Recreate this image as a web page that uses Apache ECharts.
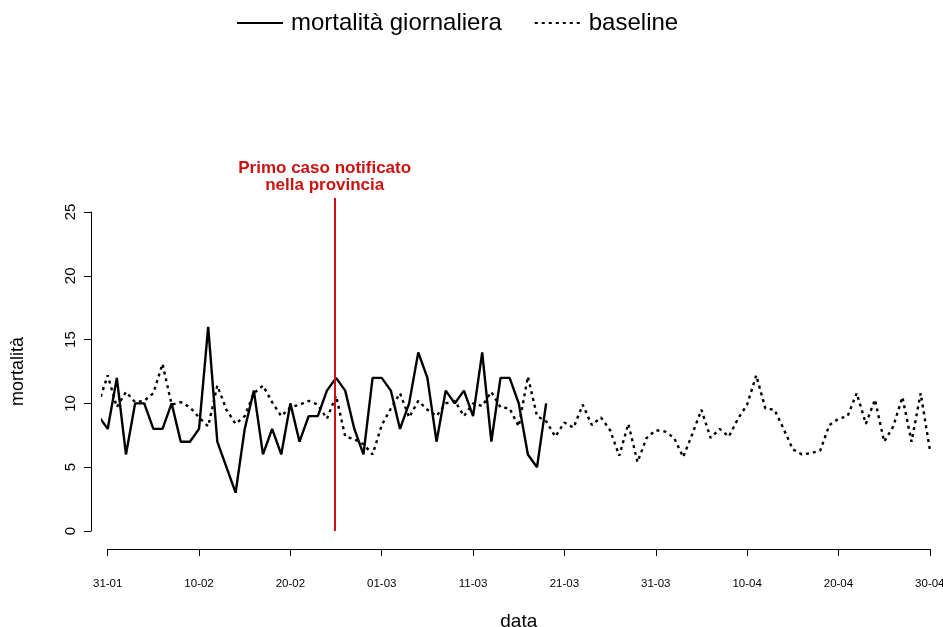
<!DOCTYPE html>
<html>
<head>
<meta charset="utf-8">
<script src="https://cdn.jsdelivr.net/npm/echarts@6/dist/echarts.min.js"></script>
<style>
html,body{margin:0;padding:0;background:#fff;}
#chart{width:943px;height:627px;}
</style>
</head>
<body>
<div id="chart"></div>
<script>
// day index 0 = 31-01 ; first value is 30-01 (day -1)
const firstDay = -1;
const xTickLabels = ['31-01','10-02','20-02','01-03','11-03','21-03','31-03','10-04','20-04','30-04'];
const seriesNames = ['mortalità giornaliera', 'baseline'];
const mortalita = [9,
  8,12,6,10,10,8,8,10,7,7,
  8,16,7,5,3,8,11,6,8,6,
  10,7,9,9,11,12,11,8,6,12,
  12,11,8,10,14,12,7,11,10,11,
  9,14,7,12,12,10,6,5,10];
const baseline = [10.0,
  12.2,9.7,10.9,10.1,10.2,10.8,13.1,9.9,10.1,9.7,
  8.9,8.2,11.4,9.5,8.4,9.0,10.8,11.4,10.1,9.0,
  9.7,9.9,10.2,9.9,8.8,10.6,7.4,7.2,6.8,6.0,
  8.3,9.6,10.8,8.9,10.2,9.5,9.0,10.0,10.2,9.0,
  10.0,9.8,10.9,9.7,9.6,8.2,12.1,9.0,8.6,7.4,
  8.5,8.1,9.9,8.3,8.9,7.9,5.9,8.4,5.4,7.3,
  7.9,7.8,7.3,5.8,7.6,9.5,7.3,8.0,7.4,8.8,
  9.9,12.2,9.6,9.5,8.0,6.4,6.0,6.1,6.3,8.3,
  8.8,9.0,10.8,8.4,10.3,7.0,8.2,10.5,7.0,10.8,
  6.4];
const primoCasoDay = 24.85;
const primoCasoTop = 26.1;
const primoCasoText = 'Primo caso notificato\nnella provincia';

const FONT = "'Liberation Sans', Arial, Helvetica, sans-serif";
const chart = echarts.init(document.getElementById('chart'), null, {renderer:'canvas'});

const toPairs = arr => arr.map((v, i) => [firstDay + i, v]);

// pixel layout
const axisLeftPx = 107.7, axisRightPx = 929.8, yTop = 212, yBottom = 531;
const pxPerDay = (axisRightPx - axisLeftPx) / 90;
const pxPerUnit = (yBottom - yTop) / 25;
const dataYMax = 27;

const option = {
  animation: false,
  backgroundColor: '#ffffff',
  textStyle: {fontFamily: FONT},
  legend: {
    top: 6,
    left: 231,
    itemWidth: 46,
    itemHeight: 14,
    itemGap: 32,
    itemStyle: {opacity: 0},
    textStyle: {fontFamily: FONT, fontSize: 24, color: '#000', padding: [0,0,0,3]},
    data: seriesNames
  },
  grid: [
    { // data grid
      left: axisLeftPx - 0.5 * pxPerDay,
      right: 943 - axisRightPx,
      top: yBottom - dataYMax * pxPerUnit,
      bottom: 627 - yBottom,
      containLabel: false,
      outerBoundsMode: 'none'
    },
    { // axis grid
      left: axisLeftPx,
      right: 943 - axisRightPx,
      top: yTop,
      bottom: 627 - yBottom,
      containLabel: false,
      outerBoundsMode: 'none'
    }
  ],
  xAxis: [
    {gridIndex: 0, type: 'value', min: -0.5, max: 90, show: false},
    {
      gridIndex: 1, type: 'value', min: 0, max: 90, interval: 10,
      offset: 18,
      name: 'data', nameLocation: 'middle', nameGap: 63,
      nameTextStyle: {fontFamily: FONT, fontSize: 19, color: '#000'},
      axisLine: {show: true, onZero: false, lineStyle: {color: '#000', width: 1}},
      axisTick: {show: true, length: 7, lineStyle: {color: '#000'}},
      axisLabel: {
        margin: 29, fontSize: 11.5, color: '#000', fontFamily: FONT,
        formatter: v => xTickLabels[Math.round(v / 10)]
      },
      splitLine: {show: false}
    }
  ],
  yAxis: [
    {gridIndex: 0, type: 'value', min: 0, max: dataYMax, show: false},
    {
      gridIndex: 1, type: 'value', min: 0, max: 25, interval: 5,
      offset: axisLeftPx - 91,
      name: 'mortalità', nameLocation: 'middle', nameGap: 64,
      nameTextStyle: {fontFamily: FONT, fontSize: 18, color: '#000'},
      axisLine: {show: true, onZero: false, lineStyle: {color: '#000', width: 1}},
      axisTick: {show: true, length: 7, lineStyle: {color: '#000'}},
      axisLabel: {rotate: 90, margin: 13, fontSize: 15, color: '#000', fontFamily: FONT},
      splitLine: {show: false}
    }
  ],
  series: [
    {
      name: seriesNames[0],
      type: 'line',
      xAxisIndex: 0, yAxisIndex: 0,
      data: toPairs(mortalita),
      symbol: 'none',
      clip: true,
      lineStyle: {color: '#000', width: 2.4, type: 'solid'},
      itemStyle: {color: '#000'},
      z: 3,
      markLine: {
        silent: true,
        symbol: ['none', 'none'],
        lineStyle: {color: '#cc1111', width: 2, type: 'solid'},
        label: {
          show: true, position: 'end', distance: 4,
          offset: [-10, 0],
          formatter: primoCasoText,
          color: '#cc1111', fontWeight: 'bold', fontSize: 17, lineHeight: 17,
          fontFamily: FONT, align: 'center'
        },
        data: [[{coord: [primoCasoDay, 0]}, {coord: [primoCasoDay, primoCasoTop]}]]
      }
    },
    {
      name: seriesNames[1],
      type: 'line',
      xAxisIndex: 0, yAxisIndex: 0,
      data: toPairs(baseline),
      symbol: 'none',
      clip: true,
      lineStyle: {color: '#000', width: 2.4, type: [3, 4]},
      itemStyle: {color: '#000'},
      z: 2
    }
  ]
};
chart.setOption(option);
</script>
</body>
</html>
